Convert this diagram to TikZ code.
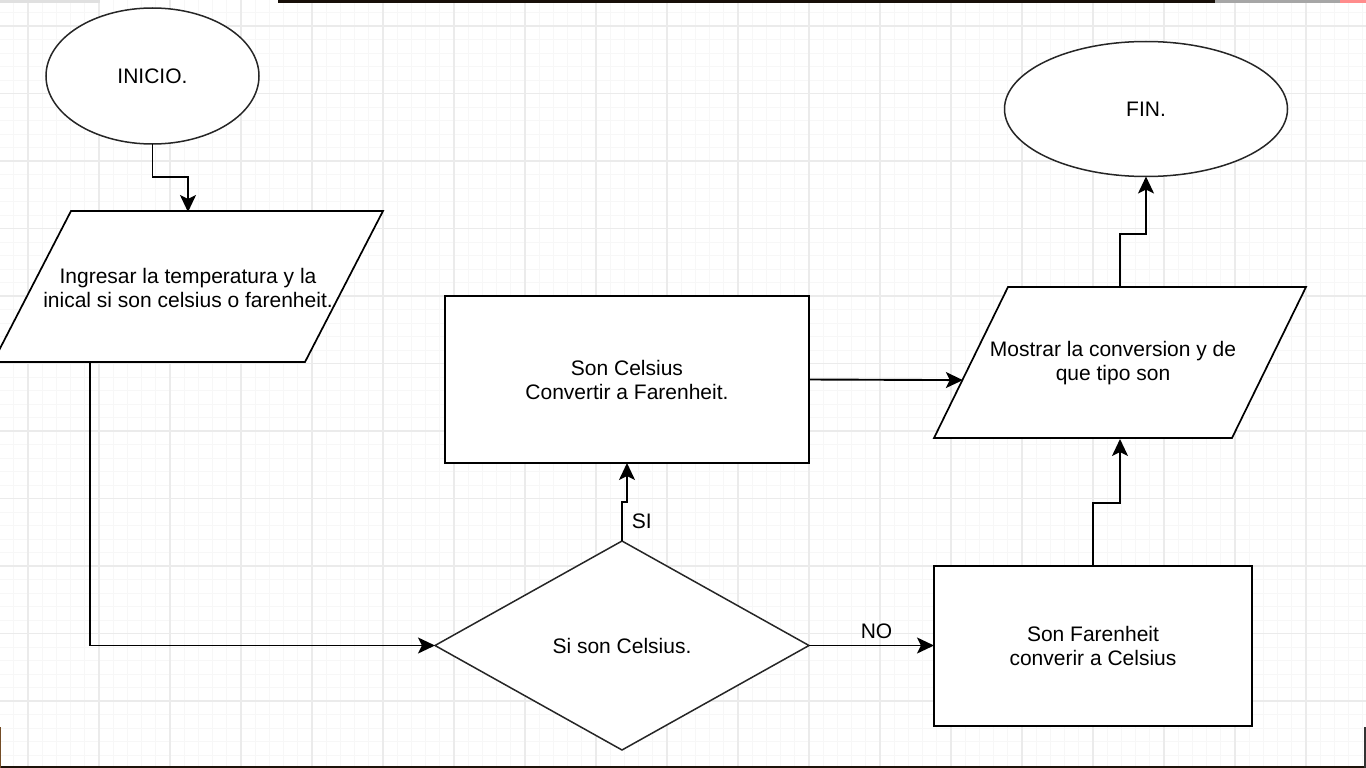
\documentclass[tikz,border=0pt]{standalone}
\usepackage{fontspec}
\setmainfont{Liberation Sans}
\usetikzlibrary{shapes.geometric,arrows.meta,calc}
\begin{document}
\begin{tikzpicture}[x=1pt,y=-1pt,
  txt/.style={font=\fontsize{21}{24}\selectfont, align=center, text=black},
  shapeline/.style={txt, draw=black, line width=1.5pt, fill=white, inner sep=0pt, outer sep=0pt},
  startend/.style={shapeline, ellipse, draw=black!85},
  procbox/.style={shapeline, rectangle, line width=2.2pt},
  iobox/.style={txt, rectangle, inner sep=0pt, outer sep=0pt},
  ioline/.style={draw=black, line width=1.7pt, fill=white, line join=miter},
  decision/.style={shapeline, diamond, draw=black!85},
  conn/.style={draw=black, line width=1.9pt, -{Stealth[length=17pt,width=16pt,inset=4pt]}},
  lbl/.style={font=\fontsize{21}{24}\selectfont, text=black, inner sep=0pt},
  minorgrid/.style={draw=black!3, line width=0.8pt},
  majorgrid/.style={draw=black!8, line width=1.6pt},
]
% canvas
\useasboundingbox (0,0) rectangle (1366,768);
\fill[white] (0,0) rectangle (1366,768);

% background grid
\foreach \i in {0,...,100} { \draw[minorgrid] ({-43+\i*14.2},0) -- ({-43+\i*14.2},768); }
\foreach \j in {0,...,60} { \draw[minorgrid] (0,{-41.5+\j*13.5}) -- (1366,{-41.5+\j*13.5}); }
\foreach \i in {0,...,19} { \draw[majorgrid] ({28+\i*71},0) -- ({28+\i*71},768); }
\foreach \j in {0,...,11} { \draw[majorgrid] (0,{26+\j*67.5}) -- (1366,{26+\j*67.5}); }

% window edges
\fill[black!12] (0,0) rectangle (100,3);
\fill[black!88!brown] (278,0) rectangle (1215,3);
\fill[black!35] (1215,0) rectangle (1340,3);
\fill[red!45!white] (1340,0) rectangle (1366,3);
\fill[black!85!brown] (0,766) rectangle (1366,768);
\fill[black!80] (1364,727) rectangle (1366,768);
\fill[brown!60!black] (0,727) rectangle (1,768);

% parallelogram outlines (input / output), drawn below their text nodes
\draw[ioline] (71,211) -- (383,211) -- (305,362) -- (-7,362) -- cycle;
\draw[ioline] (1008,287) -- (1306,287) -- (1232,438) -- (934,438) -- cycle;

% flowchart nodes
\node[startend, minimum width=213pt, minimum height=136pt] (inicio) at (152.5,76) {INICIO.};
\node[iobox, minimum width=390pt, minimum height=151pt] (entrada) at (188,287.5)
      {Ingresar la temperatura y la\\inical si son celsius o farenheit.};
\node[decision, minimum width=374pt, minimum height=209pt] (pregunta) at (622,645.5) {Si son Celsius.};
\node[procbox, minimum width=364pt, minimum height=167pt] (celsius) at (627,379.5)
      {Son Celsius\\Convertir a Farenheit.};
\node[procbox, minimum width=318pt, minimum height=160pt] (farenheit) at (1093,646)
      {Son Farenheit\\converir a Celsius};
\node[iobox, minimum width=372pt, minimum height=151pt] (salida) at (1113,363.5)
      {Mostrar la conversion y de\\que tipo son};
\node[startend, minimum width=283pt, minimum height=135pt] (fin) at (1146,109) {FIN.};

% connectors
\draw[conn] (inicio.south) -- ++(0,33) -| (entrada.north);
\draw[conn] ([xshift=-98pt]entrada.south) |- (pregunta.west);
\draw[conn] (pregunta.north) -- node[lbl, anchor=west, xshift=9pt] {SI} ++(0,-39) -| (celsius.south);
\draw[conn] (pregunta.east) -- node[lbl, anchor=south, xshift=5pt, yshift=6pt] {NO} (pregunta.east -| farenheit.west);
\draw[conn] (celsius.east) -- ($([xshift=-179pt]salida.south)!0.39!([xshift=-105pt]salida.north)$);
\draw[conn] (farenheit.north) -- ++(0,-63) -| ([xshift=7pt]salida.south);
\draw[conn] ([xshift=7pt]salida.north) -- ++(0,-54) -| (fin.south);
\end{tikzpicture}
\end{document}
